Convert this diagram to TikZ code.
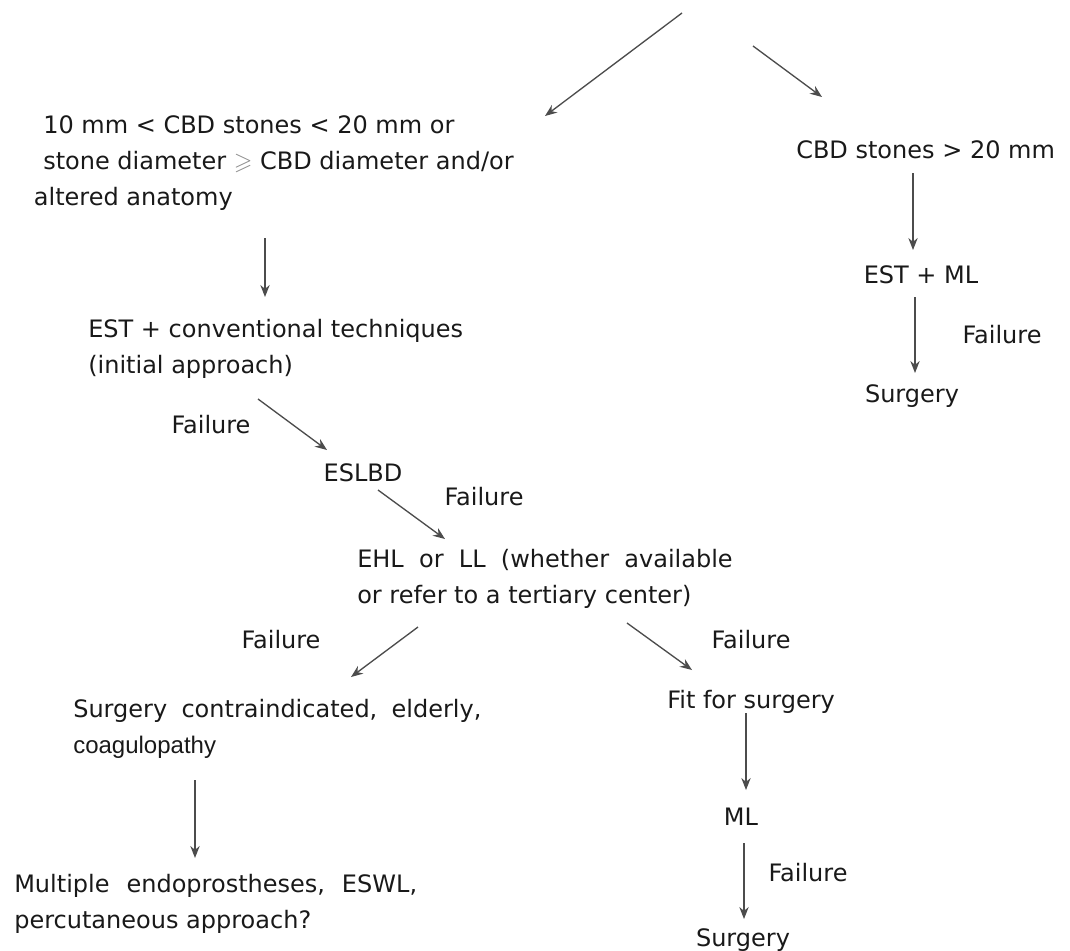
\documentclass[tikz,border=0pt]{standalone}
\usepackage{amssymb}
\usepackage{fontspec}
\setmainfont{DejaVu Sans}
\newfontfamily\narrowfont{Liberation Sans}
\usetikzlibrary{arrows.meta,calc,positioning}

\begin{document}
\begin{tikzpicture}[x=0.75pt,y=-0.75pt,
    txt/.style={inner sep=0pt,align=left,text=black!90,
      font=\fontsize{18}{27}\selectfont},
    lbl/.style={inner sep=0pt,text=black!90,font=\fontsize{18}{21}\selectfont},
    arr/.style={draw=black!70,line width=1pt,-{Stealth[length=9pt,width=7pt]}}]
 \useasboundingbox (0,0) rectangle (1070,950);
 \coordinate (root1) at (682,13);
 \coordinate (root2) at (753,46);
 % left branch
 \node[txt,anchor=base west] (small) at (43,205)
  {10 mm < CBD stones < 20 mm or\\
   stone diameter {\color{black!45}$\geqslant$} CBD diameter and/or\\
   \hspace*{-7pt}altered anatomy};
 \node[txt,anchor=base west] (estconv) at (88,373)
  {EST + conventional techniques\\ (initial approach)};
 \node[lbl,anchor=base] (fail1) at (211,433) {Failure};
 \node[lbl,anchor=base] (eslbd) at (363,481) {ESLBD};
 \node[lbl,anchor=base] (fail2) at (484,505) {Failure};
 \node[txt,anchor=base west] (ehl) at (357,603)
  {EHL~~or~~LL~~(whether~~available\\ or refer to a tertiary center)};
 \node[lbl,anchor=base] (fail3) at (281,648) {Failure};
 \node[lbl,anchor=base] (fail4) at (751,648) {Failure};
 \node[txt,anchor=base west] (contra) at (73,753)
  {Surgery \hspace{5pt}contraindicated, \hspace{5pt}elderly,\\
   {\narrowfont coagulopathy}};
 \node[txt,anchor=base west] (multi) at (14,928)
  {Multiple \hspace{7pt}endoprostheses, \hspace{7pt}ESWL,\\ percutaneous approach?};
 \node[lbl,anchor=base west] (fit) at (667,708) {Fit for surgery};
 \node[lbl,anchor=base] (ml) at (741,825) {ML};
 \node[lbl,anchor=base] (fail5) at (808,881) {Failure};
 \node[lbl,anchor=base] (surgB) at (743,946) {Surgery};
 % right branch
 \node[lbl,anchor=base west] (large) at (796,158) {CBD stones > 20 mm};
 \node[lbl,anchor=base] (estml) at (921,283) {EST + ML};
 \node[lbl,anchor=base] (failR) at (1002,343) {Failure};
 \node[lbl,anchor=base] (surgR) at (912,402) {Surgery};
 % connectors
 \draw[arr] (root1) -- ($(small.base -| 545,0)+(0,-89)$);
 \draw[arr] (root2) -- ($(large.base -| 822,0)+(0,-61)$);
 \draw[arr] ($(small.base -| 265,0)+(0,33)$) -- ($(estconv.base -| 265,0)+(0,-76)$);
 \draw[arr] ($(estconv.base -| 258,0)+(0,26)$) -- ($(eslbd.base -| 327,0)+(0,-31)$);
 \draw[arr] ($(eslbd.base -| 378,0)+(0,9)$) -- ($(ehl.base -| 445,0)+(0,-64)$);
 \draw[arr] ($(ehl.base -| 418,0)+(0,24)$) -- ($(contra.base -| 351,0)+(0,-76)$);
 \draw[arr] ($(ehl.base -| 627,0)+(0,20)$) -- ($(fit.base -| 692,0)+(0,-38)$);
 \draw[arr] ($(contra.base -| 195,0)+(0,27)$) -- ($(multi.base -| 195,0)+(0,-70)$);
 \draw[arr] ($(fit.base -| 746,0)+(0,5)$) -- ($(ml.base -| 746,0)+(0,-35)$);
 \draw[arr] ($(ml.base -| 744,0)+(0,18)$) -- ($(surgB.base -| 744,0)+(0,-27)$);
 \draw[arr] ($(large.base -| 913,0)+(0,15)$) -- ($(estml.base -| 913,0)+(0,-33)$);
 \draw[arr] ($(estml.base -| 915,0)+(0,14)$) -- ($(surgR.base -| 915,0)+(0,-29)$);
\end{tikzpicture}
\end{document}
